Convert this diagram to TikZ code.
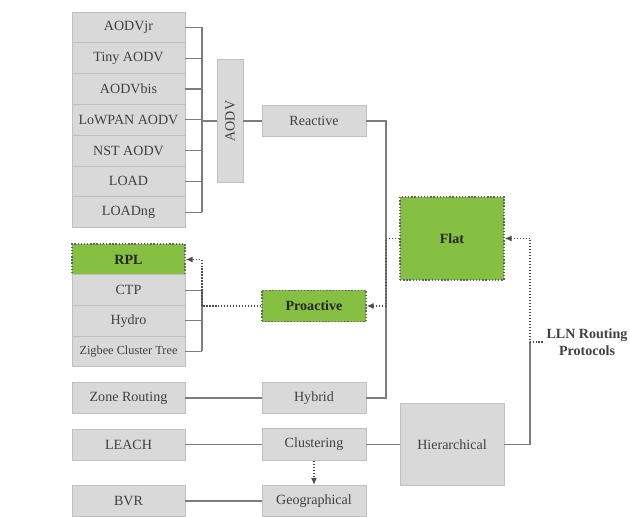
\documentclass[tikz,border=0pt]{standalone}
\usepackage{fontspec}
\setmainfont{Liberation Serif}
\usetikzlibrary{arrows.meta}
\definecolor{boxgray}{RGB}{217,217,217}
\definecolor{boxedge}{RGB}{192,192,192}
\definecolor{leafgreen}{RGB}{134,192,66}
\definecolor{linegray}{RGB}{125,125,125}

\begin{document}
\begin{tikzpicture}[x=0.02cm, y=-0.02cm,
    every node/.style={font=\fontsize{8}{9.5}\selectfont, text=black!75},
    graybox/.style={draw=boxedge, fill=boxgray, inner sep=0pt},
    greenbox/.style={draw=black!60, densely dotted, line width=0.8pt, fill=leafgreen,
      inner sep=0pt, text=black!85, font=\fontsize{8}{9.5}\selectfont\bfseries},
    leftbox/.style={minimum width=2.26cm, minimum height=0.616cm},
    midbox/.style={minimum width=2.08cm, minimum height=0.63cm},
    link/.style={draw=linegray, line width=0.6pt},
    dotlink/.style={draw=black!70, line width=0.7pt, densely dotted,
      -{Latex[length=4pt,width=3.5pt]}}]
  \useasboundingbox (0,0) rectangle (630,517);

  %% ---------- TOP: AODV family -> Reactive ----------
  \foreach \lbl [count=\i] in {AODVjr, Tiny AODV, AODVbis, LoWPAN AODV, NST AODV, LOAD, LOADng}
    \node[graybox, leftbox] (r\i) at (128.5, {27.4+30.8*(\i-1)}) {\lbl};
  \coordinate (bus) at (202,0);
  \foreach \i in {1,...,7}
    \draw[link] (r\i.east) -- (r\i.east -| bus);
  \draw[link] (bus |- r1) -- (bus |- r7);
  \node[graybox, rotate=90, minimum width=2.46cm, minimum height=0.52cm]
    (aodv) at (230,121) {AODV};
  \draw[link] (bus |- aodv) -- (aodv);
  \node[graybox, midbox] (reactive) at (314,121) {Reactive};
  \draw[link] (aodv) -- (reactive);

  %% ---------- MIDDLE: RPL & co. -> Proactive ----------
  \node[greenbox, leftbox] (rpl) at (128.5,259.5) {RPL};
  \node[graybox, leftbox] (ctp) at (128.5,290.1) {CTP};
  \node[graybox, leftbox] (hydro) at (128.5,320.7) {Hydro};
  \node[graybox, leftbox, font=\fontsize{7}{8}\selectfont] (zct) at (128.5,351.3) {Zigbee Cluster Tree};
  \foreach \nm in {ctp, hydro, zct}
    \draw[link] (\nm.east) -- (\nm.east -| bus);
  \draw[link] (bus |- ctp) -- (bus |- zct);
  \node[greenbox, midbox] (proactive) at (314,306) {Proactive};
  \draw[dotlink] (proactive.west) -- (proactive.west -| bus) |- (rpl.east);

  %% ---------- BOTTOM: hybrid, clustering, geographical ----------
  \node[graybox, leftbox] (zone) at (128.5,398) {Zone Routing};
  \node[graybox, midbox] (hybrid) at (314,398) {Hybrid};
  \node[graybox, leftbox] (leach) at (128.5,444.5) {LEACH};
  \node[graybox, midbox] (clustering) at (314,444.5) {Clustering};
  \node[graybox, leftbox] (bvr) at (128.5,501) {BVR};
  \node[graybox, midbox] (geo) at (314,501) {Geographical};
  \draw[link] (zone) -- (hybrid);
  \draw[link] (leach) -- (clustering);
  \draw[link] (bvr) -- (geo);
  \draw[dotlink] (clustering) -- (geo);

  %% ---------- RIGHT: Flat / Hierarchical -> root ----------
  \node[greenbox, minimum width=2.08cm, minimum height=1.66cm] (flat) at (452,238.5) {Flat};
  \node[graybox, minimum width=2.08cm, minimum height=1.64cm] (hier) at (452,444.5) {Hierarchical};
  \draw[link] (clustering) -- (hier);
  \coordinate (flatbus) at (386,0);
  \draw[link] (reactive.east) -| (flatbus |- hybrid) -- (hybrid.east);
  \draw[dotlink] (flat.west) -- (flat.west -| flatbus) |- (proactive.east);

  \node[font=\fontsize{8}{10}\selectfont\bfseries, align=center, inner sep=2pt] (lln) at (587,342)
    {LLN Routing\\Protocols};
  \coordinate (rootbus) at (530,0);
  \draw[link] (hier.east) -| (rootbus |- lln);
  \draw[dotlink] (lln.west) -- (lln.west -| rootbus) |- (flat.east);
\end{tikzpicture}
\end{document}
